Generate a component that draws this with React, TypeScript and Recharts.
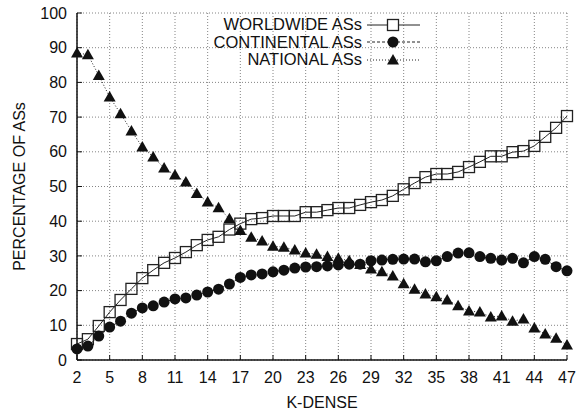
import { LineChart, Line, XAxis, YAxis, CartesianGrid } from "recharts";

const kDense = [
  2, 3, 4, 5, 6, 7, 8, 9, 10, 11, 12, 13, 14, 15, 16, 17, 18, 19, 20, 21, 22, 23, 24,
  25, 26, 27, 28, 29, 30, 31, 32, 33, 34, 35, 36, 37, 38, 39, 40, 41, 42, 43, 44, 45, 46, 47,
];

const worldwide = [
  4.6, 6, 9.8, 13.8, 17.3, 20.5, 23.6, 25.9, 28, 29.4, 31.1, 33.1, 34.6, 35.5, 37.6, 39.3,
  40.6, 40.9, 41.5, 41.5, 41.5, 42.6, 42.6, 43.2, 43.8, 43.8, 44.7, 45.5, 46.1, 47.3, 49.2,
  51, 52.7, 53.6, 53.6, 54.2, 55.6, 57.1, 58.7, 58.7, 59.9, 60.2, 61.7, 64.3, 66.9, 70.3,
];

const continental = [
  3.2, 4, 6.9, 9.5, 11.2, 13.5, 15, 15.6, 16.7, 17.6, 17.9, 18.7, 19.6, 20.4, 21.9, 23.8,
  24.5, 24.8, 25.4, 25.9, 26.5, 26.8, 26.9, 27.1, 27.4, 27.6, 27.6, 28.6, 28.8, 29, 29.1,
  29.1, 28.3, 28.6, 29.8, 30.8, 30.9, 29.8, 29.3, 28.8, 29.3, 28, 29.8, 29, 26.9, 25.7,
];

const national = [
  88.5, 88, 82, 75.8, 71, 66, 61.4, 58.5, 55.3, 53.3, 51.3, 48, 45.5, 43.9, 40.7, 37.3,
  35.4, 34.3, 32.8, 32.5, 31.7, 30.8, 30.5, 29.8, 29.3, 28.6, 27.5, 26.2, 25.4, 24.2, 22,
  20.4, 19, 18.2, 17.3, 15.6, 14.1, 13.8, 12.4, 12.7, 11.2, 11.8, 9.2, 7.5, 6.3, 4.3,
];

const xTicks = [2, 5, 8, 11, 14, 17, 20, 23, 26, 29, 32, 35, 38, 41, 44, 47];
const yTicks = [0, 10, 20, 30, 40, 50, 60, 70, 80, 90, 100];

const seriesNames = ["WORLDWIDE ASs", "CONTINENTAL ASs", "NATIONAL ASs"];

const FONT = "'Liberation Sans', Arial, Helvetica, sans-serif";
const INK = "#111";

const data = kDense.map((k, i) => ({
  k,
  worldwide: worldwide[i],
  continental: continental[i],
  national: national[i],
}));

const Square = (props: any) => {
  const { cx, cy, index } = props;
  return (
    <rect
      key={`sq-${index}`}
      x={cx - 5.5}
      y={cy - 5.5}
      width={11}
      height={11}
      fill="none"
      stroke="#222"
      strokeWidth={1.3}
    />
  );
};

const Circle = (props: any) => {
  const { cx, cy, index } = props;
  return <circle key={`ci-${index}`} cx={cx} cy={cy} r={5.5} fill={INK} />;
};

const Triangle = (props: any) => {
  const { cx, cy, index } = props;
  return (
    <path
      key={`tr-${index}`}
      d={`M${cx},${cy - 6} L${cx + 6},${cy + 4.5} L${cx - 6},${cy + 4.5} Z`}
      fill={INK}
    />
  );
};

// legend drawn over the plot, top right, text right-aligned
const LegendBox = () => {
  const rows = [
    { name: seriesNames[0], dash: undefined, marker: "square" },
    { name: seriesNames[1], dash: "3 2", marker: "circle" },
    { name: seriesNames[2], dash: "1 2", marker: "triangle" },
  ];
  return (
    <div style={{ position: "absolute", left: 150, top: 16, width: 272 }}>
      {rows.map((r) => (
        <div
          key={r.name}
          style={{ display: "flex", alignItems: "center", height: 17.5, justifyContent: "flex-end" }}
        >
          <span style={{ fontFamily: FONT, fontSize: 16.5, color: INK, marginRight: 5, lineHeight: "17px" }}>
            {r.name}
          </span>
          <svg width={55} height={14}>
            <line x1={0} x2={53} y1={7} y2={7} stroke="#222" strokeWidth={1} strokeDasharray={r.dash} />
            {r.marker === "square" && (
              <rect x={20.5} y={1.5} width={11} height={11} fill="#fff" stroke="#222" strokeWidth={1.3} />
            )}
            {r.marker === "circle" && <circle cx={26} cy={7} r={5.5} fill={INK} />}
            {r.marker === "triangle" && <path d="M26,1 L32,11.5 L20,11.5 Z" fill={INK} />}
          </svg>
        </div>
      ))}
    </div>
  );
};

export default function App() {
  return (
    <div style={{ position: "absolute", left: 0, top: 0, width: 588, height: 413, background: "#fff" }}>
      <LineChart
        width={588}
        height={413}
        data={data}
        margin={{ top: 13, right: 21, bottom: 0, left: 0 }}
      >
        <CartesianGrid stroke="#666" strokeDasharray="1 2" strokeWidth={0.8} />
        <XAxis
          dataKey="k"
          type="number"
          domain={[2, 47]}
          ticks={xTicks}
          interval={0}
          tickSize={-5}
          tickLine={{ stroke: INK }}
          axisLine={{ stroke: INK, strokeWidth: 1.5 }}
          tick={{ fill: INK, fontSize: 16, fontFamily: FONT }}
          tickMargin={17}
          height={53}
          label={{
            value: "K-DENSE",
            position: "insideBottom",
            offset: 5,
            fill: INK,
            fontSize: 16,
            fontFamily: FONT,
          }}
        />
        <YAxis
          type="number"
          domain={[0, 100]}
          ticks={yTicks}
          interval={0}
          tickSize={-5}
          tickLine={{ stroke: INK }}
          axisLine={{ stroke: INK, strokeWidth: 1.5 }}
          tick={{ fill: INK, fontSize: 16, fontFamily: FONT }}
          tickMargin={15}
          width={77}
          label={{
            value: "PERCENTAGE OF ASs",
            angle: -90,
            position: "insideLeft",
            offset: 19,
            style: { textAnchor: "middle" },
            fill: INK,
            fontSize: 16,
            fontFamily: FONT,
          }}
        />
        <Line
          dataKey="worldwide"
          name={seriesNames[0]}
          stroke="#222"
          strokeWidth={1}
          dot={Square}
          activeDot={false}
          isAnimationActive={false}
        />
        <Line
          dataKey="continental"
          name={seriesNames[1]}
          stroke="#222"
          strokeWidth={1}
          strokeDasharray="3 2"
          dot={Circle}
          activeDot={false}
          isAnimationActive={false}
        />
        <Line
          dataKey="national"
          name={seriesNames[2]}
          stroke="#222"
          strokeWidth={1}
          strokeDasharray="1 2"
          dot={Triangle}
          activeDot={false}
          isAnimationActive={false}
        />
      </LineChart>
      <LegendBox />
    </div>
  );
}
